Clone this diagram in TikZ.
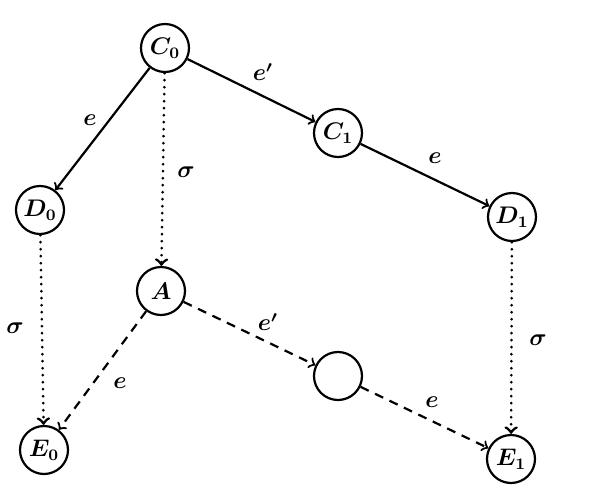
\documentclass[tikz,border=0pt]{standalone}
\begin{document}
\begin{tikzpicture}[x=0.5pt,y=-0.5pt,
  st/.style={circle,draw,line width=1.1pt,minimum size=24pt,inner sep=0pt,font=\large\boldmath},
  lab/.style={inner sep=1pt,font=\large\boldmath},
  solidarr/.style={->,>=to,line width=1.1pt},
  dotarr/.style={->,>=to,line width=1.4pt,dash pattern=on 0.1pt off 3.4pt,line cap=round},
  dasharr/.style={->,>=to,line width=1.1pt,dash pattern=on 4.5pt off 3.5pt}]
\useasboundingbox (0,0) rectangle (591,500);
\node[st] (C0) at (165,48) {$C_0$};
\node[st] (C1) at (338,133) {$C_1$};
\node[st] (D0) at (40,210) {$D_0$};
\node[st] (D1) at (512,217) {$D_1$};
\node[st] (A) at (161,291) {$A$};
\node[st] (X) at (338,376) {};
\node[st] (E0) at (44,450) {$E_0$};
\node[st] (E1) at (511,459) {$E_1$};
\draw[solidarr] (C0) -- (C1);
\draw[solidarr] (C0) -- (D0);
\draw[solidarr] (C1) -- (D1);
\draw[dotarr] (C0) -- (A);
\draw[dotarr] (D0) -- (E0);
\draw[dotarr] (D1) -- (E1);
\draw[dasharr] (A) -- (E0);
\draw[dasharr] (A) -- (X);
\draw[dasharr] (X) -- (E1);
\node[lab] (l1) at (263,72) {$e'$};
\node[lab] (l2) at (90,120) {$e$};
\node[lab] (l3) at (186,172) {$\sigma$};
\node[lab] (l4) at (435,158) {$e$};
\node[lab] (l5) at (15,328) {$\sigma$};
\node[lab] (l6) at (268,322) {$e'$};
\node[lab] (l7) at (120,383) {$e$};
\node[lab] (l8) at (432,402) {$e$};
\node[lab] (l9) at (538,340) {$\sigma$};
\end{tikzpicture}
\end{document}
